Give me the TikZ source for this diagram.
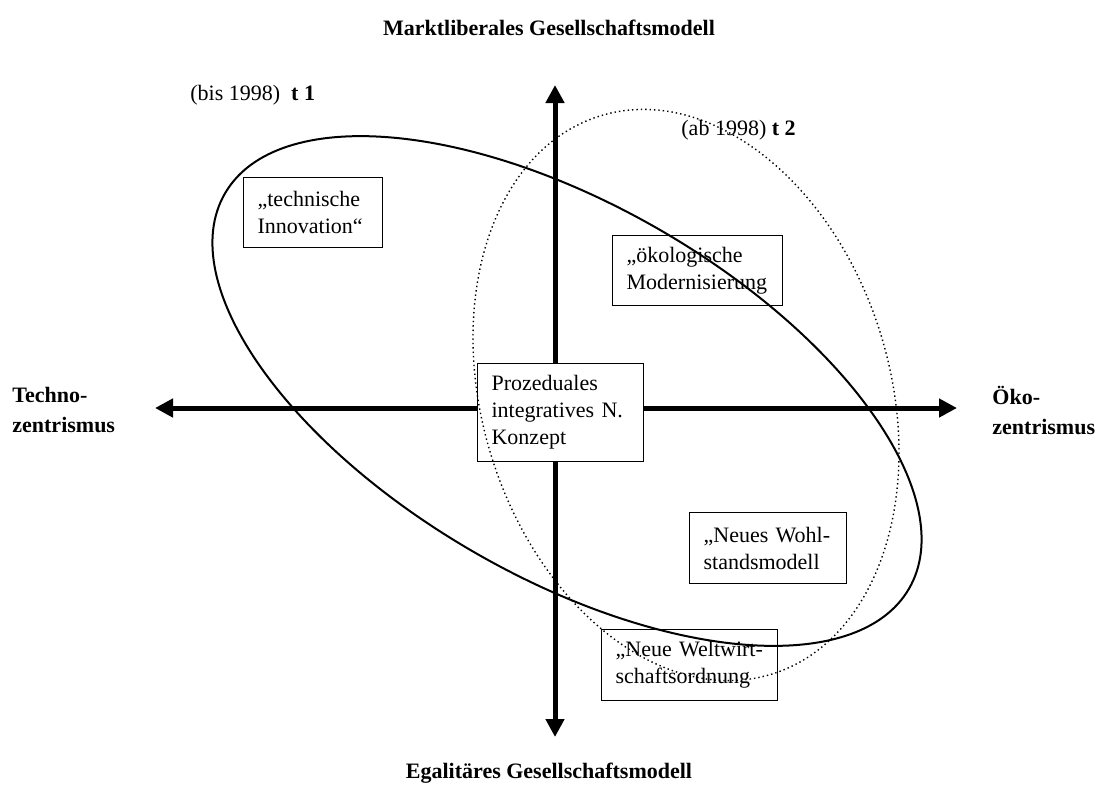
\documentclass[tikz,border=0pt]{standalone}
\usepackage{fontspec}
\setmainfont{Liberation Serif}
\usetikzlibrary{arrows.meta}
\begin{document}
\begin{tikzpicture}[x=0.5pt,y=-0.5pt,
  axis/.style={line width=2.5pt,{Triangle[length=9pt,width=9pt]}-{Triangle[length=9pt,width=9pt]}},
  tbox/.style={draw,line width=0.6pt,anchor=north west,align=left,inner xsep=7pt,inner ysep=0pt,
    font=\fontsize{11}{13.5}\selectfont},
  lab/.style={font=\fontsize{11}{15}\selectfont\bfseries,inner sep=0pt},
  txt/.style={font=\fontsize{11}{13.5}\selectfont,inner sep=0pt,anchor=west},
  tone/.style={line width=1pt},
  ttwo/.style={line width=0.7pt,dash pattern=on 0.7pt off 1.5pt}
]
\fill[white] (0,0) rectangle (1097,788);
\useasboundingbox (0,0) rectangle (1097,788);
% axes
\coordinate (W) at (155,408);
\coordinate (E) at (957,408);
\coordinate (N) at (555,85);
\coordinate (S) at (555,737);
\draw[axis] (W) -- (E);
\draw[axis] (N) -- (S);
% central box
\node[tbox,fill=white,text width=69pt,minimum height=49pt] (proz) at (477,363)
  {Prozeduales\\\mbox{integratives N.}\\Konzept};
% ellipses
\coordinate (c1) at (567,391);
\coordinate (c2) at (686,395);
\draw[tone,rotate around={-30:(c1)}] (c1) ellipse [x radius=395,y radius=186];
\draw[ttwo,rotate around={17:(c2)}] (c2) ellipse [x radius=204,y radius=292];
% boxes
\node[tbox,text width=55.5pt,minimum height=35pt] (tech) at (243,177)
  {„technische\\Innovation“};
\node[tbox,text width=71pt,minimum height=35pt] (oeko) at (612,235)
  {„ökologische\\Modernisierung};
\node[tbox,text width=64.5pt,minimum height=35.5pt] (wohl) at (689,512)
  {\mbox{„Neues Wohl-}\\standsmodell};
\node[tbox,text width=74pt,minimum height=35.5pt] (welt) at (601,629)
  {\mbox{„Neue Weltwirt-}\\schaftsordnung};
% labels
\node[lab] (top) at (549,28) {Marktliberales Gesellschaftsmodell};
\node[lab] (bot) at (549,773) {Egalitäres Gesellschaftsmodell};
\node[lab,anchor=west,align=left] (left) at (12,410) {Techno-\\zentrismus};
\node[lab,anchor=west,align=left] (right) at (992,410) {Öko-\\zentrismus};
\node[txt] (t1) at (190,95) {(bis 1998)\ \ \textbf{t 1}};
\node[txt] (t2) at (681,130) {(ab 1998) \textbf{t 2}};
\end{tikzpicture}
\end{document}
